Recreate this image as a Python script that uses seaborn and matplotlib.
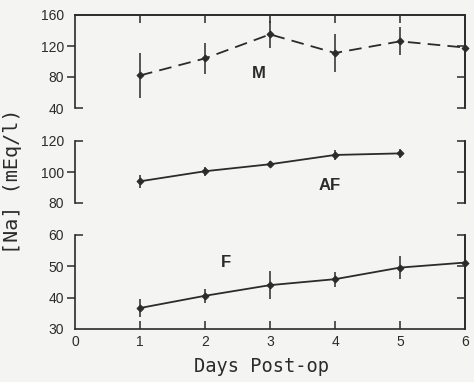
import numpy as np
import matplotlib
matplotlib.use("Agg")
import matplotlib.pyplot as plt
import seaborn as sns

# --- DATA ---
days = [1, 2, 3, 4, 5, 6]
m_mean = [82, 104, 135, 111, 126, 118]
m_err = [29, 20, 17, 25, 18, 0]

af_days = [1, 2, 3, 4, 5]
af_mean = [94, 100.5, 105, 111, 112]
af_err = [4, 3, 2, 3, 3]

f_mean = [36.7, 40.6, 44, 45.9, 49.6, 51.2]
f_err = [3, 2.2, 4.4, 2.4, 3.7, 0]

x_ticklabels = ["0", "1", "2", "3", "4", "5", "6"]

INK = "#2b2b2b"
BG = "#f4f4f2"

sns.set_style("ticks")
plt.rcParams["font.family"] = ["Liberation Sans", "DejaVu Sans"]
plt.rcParams["axes.edgecolor"] = INK
plt.rcParams["xtick.color"] = INK
plt.rcParams["ytick.color"] = INK
plt.rcParams["text.color"] = INK

fig = plt.figure(figsize=(4.74, 3.82), dpi=100, facecolor=BG)

L, W = 75 / 474, 390 / 474
def axes_at(top_px, bot_px):
    return fig.add_axes([L, 1 - bot_px / 382, W, (bot_px - top_px) / 382])

ax_m = axes_at(15, 108)
ax_af = axes_at(141, 203)
ax_f = axes_at(235, 329)

panels = [
    (ax_m, days, m_mean, m_err, (40, 160), [120, 80], [40], [160, 120, 80, 40], [120, 80, 40], (7, 4)),
    (ax_af, af_days, af_mean, af_err, (80, 120), [100], [120, 80], [120, 100, 80], [120, 100, 80], ""),
    (ax_f, days, f_mean, f_err, (30, 60), [50, 40], [60], [60, 50, 40, 30], [60, 50, 40], ""),
]

for ax, x, y, e, ylim, out_ticks, in_ticks, lab_ticks, right_ticks, dash in panels:
    ax.set_facecolor(BG)
    ax.errorbar(x, y, yerr=e, fmt="none", ecolor=INK, elinewidth=1.1, capsize=0, clip_on=False)
    sns.lineplot(x=x, y=y, ax=ax, color=INK, linewidth=1.3, marker="D", markersize=3.5,
                 markeredgecolor=INK, dashes=False, clip_on=False)
    ln = ax.lines[-1]
    if dash:
        ln.set_dashes(dash)
    ax.set_xlim(0, 6)
    ax.set_ylim(*ylim)
    for s in ax.spines.values():
        s.set_linewidth(1.2)
    ax.spines["top"].set_visible(False)
    ax.spines["bottom"].set_visible(False)
    ax.set_xticks([])
    ax.set_xlabel("")
    ax.set_ylabel("")
    # left: outward labelled ticks + inward end caps
    ax.yaxis.remove_overlapping_locs = False
    ax.set_yticks(lab_ticks)
    ax.set_yticklabels([str(t) for t in lab_ticks], fontsize=10)
    ax.set_yticks(in_ticks, minor=True)
    ax.tick_params(axis="y", which="major", direction="out", length=6, width=1.1, pad=2)
    ax.tick_params(axis="y", which="minor", direction="in", length=6, width=1.1, left=True)
    for t, tk in zip(lab_ticks, ax.yaxis.get_major_ticks()):
        if t not in out_ticks:
            tk.tick1line.set_visible(False)
    # right spine with inward ticks
    sec = ax.secondary_yaxis("right")
    sec.set_yticks(right_ticks)
    sec.tick_params(direction="in", length=6, width=1.1, labelright=False)
    sec.spines["right"].set_linewidth(1.2)
    sec.spines["right"].set_color(INK)

# top frame on first panel, bottom axis on last panel
ax_m.spines["top"].set_visible(True)
top = ax_m.secondary_xaxis("top")
top.set_xticks(days[:-1])
top.tick_params(direction="in", length=6, width=1.1, labeltop=False)
top.spines["top"].set_linewidth(1.2)

ax_f.spines["bottom"].set_visible(True)
ax_f.set_xticks(range(7))
ax_f.set_xticklabels(x_ticklabels, fontsize=10)
ax_f.tick_params(axis="x", direction="in", length=6, width=1.1, pad=4)
ax_f.xaxis.get_major_ticks()[0].tick1line.set_visible(False)
ax_f.xaxis.get_major_ticks()[-1].tick1line.set_visible(False)

ax_m.text(2.83, 84, "M", fontsize=12, fontweight="bold", ha="center", va="center")
ax_af.text(3.92, 91.6, "AF", fontsize=12, fontweight="bold", ha="center", va="center")
ax_f.text(2.32, 51.1, "F", fontsize=12, fontweight="bold", ha="center", va="center")

fig.text(262 / 474, 1 - 366 / 382, "Days Post-op", family="DejaVu Sans Mono",
         fontsize=13.4, ha="center", va="center")
fig.text(13 / 474, 1 - 181 / 382, "[Na] (mEq/l)", family="DejaVu Sans Mono",
         fontsize=14.5, rotation=90, ha="center", va="center")

fig.savefig("out.png", dpi=100, facecolor=BG)
